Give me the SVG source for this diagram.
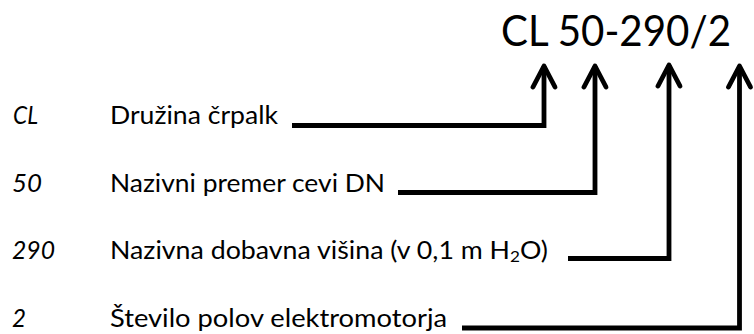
<svg xmlns="http://www.w3.org/2000/svg" width="754" height="334" viewBox="0 0 754 334">
<style>
text{font-family:Lato,"Open Sans","Liberation Sans",sans-serif;fill:#000}
.code{font-style:italic;font-size:25px}
.desc{font-size:25px}
.title{font-size:42px}
.conn{fill:none;stroke:#000;stroke-width:4.8;stroke-linejoin:miter;stroke-linecap:butt;marker-end:url(#ah)}
</style>
<defs>
<marker id="ah" markerUnits="userSpaceOnUse" orient="auto" refX="0" refY="0" markerWidth="40" markerHeight="30" viewBox="-30 -15 40 30" style="overflow:visible">
<path d="M-21,-11 L0,0 L-21,11" fill="none" stroke="#000" stroke-width="4.8" stroke-linecap="round" stroke-linejoin="round"/>
</marker>
</defs>
<rect width="754" height="334" fill="#fff"/>
<g id="title"><text class="title" x="501" y="46" textLength="230" lengthAdjust="spacingAndGlyphs">CL 50-290/2</text></g>
<g id="row-cl">
<text class="code" x="13" y="124" textLength="25" lengthAdjust="spacingAndGlyphs">CL</text>
<text class="desc" x="110" y="124" textLength="168" lengthAdjust="spacingAndGlyphs">Družina črpalk</text>
</g>
<g id="row-50">
<text class="code" x="12" y="192" textLength="30" lengthAdjust="spacingAndGlyphs">50</text>
<text class="desc" x="110" y="192" textLength="275" lengthAdjust="spacingAndGlyphs">Nazivni premer cevi DN</text>
</g>
<g id="row-290">
<text class="code" x="12" y="259" textLength="43" lengthAdjust="spacingAndGlyphs">290</text>
<text class="desc" x="110" y="259" textLength="438" lengthAdjust="spacingAndGlyphs">Nazivna dobavna višina (v 0,1 m H<tspan font-size="16" dy="3">2</tspan><tspan dy="-3">O)</tspan></text>
</g>
<g id="row-2">
<text class="code" x="12" y="327" textLength="14" lengthAdjust="spacingAndGlyphs">2</text>
<text class="desc" x="110" y="327" textLength="337" lengthAdjust="spacingAndGlyphs">Število polov elektromotorja</text>
</g>
<g id="connectors">
<path class="conn" d="M292,125.5 H544 V66"/>
<path class="conn" d="M398,192.5 H595 V66"/>
<path class="conn" d="M568,258.5 H669 V65"/>
<path class="conn" d="M462,328 H739.5 V66"/>
</g>
</svg>
